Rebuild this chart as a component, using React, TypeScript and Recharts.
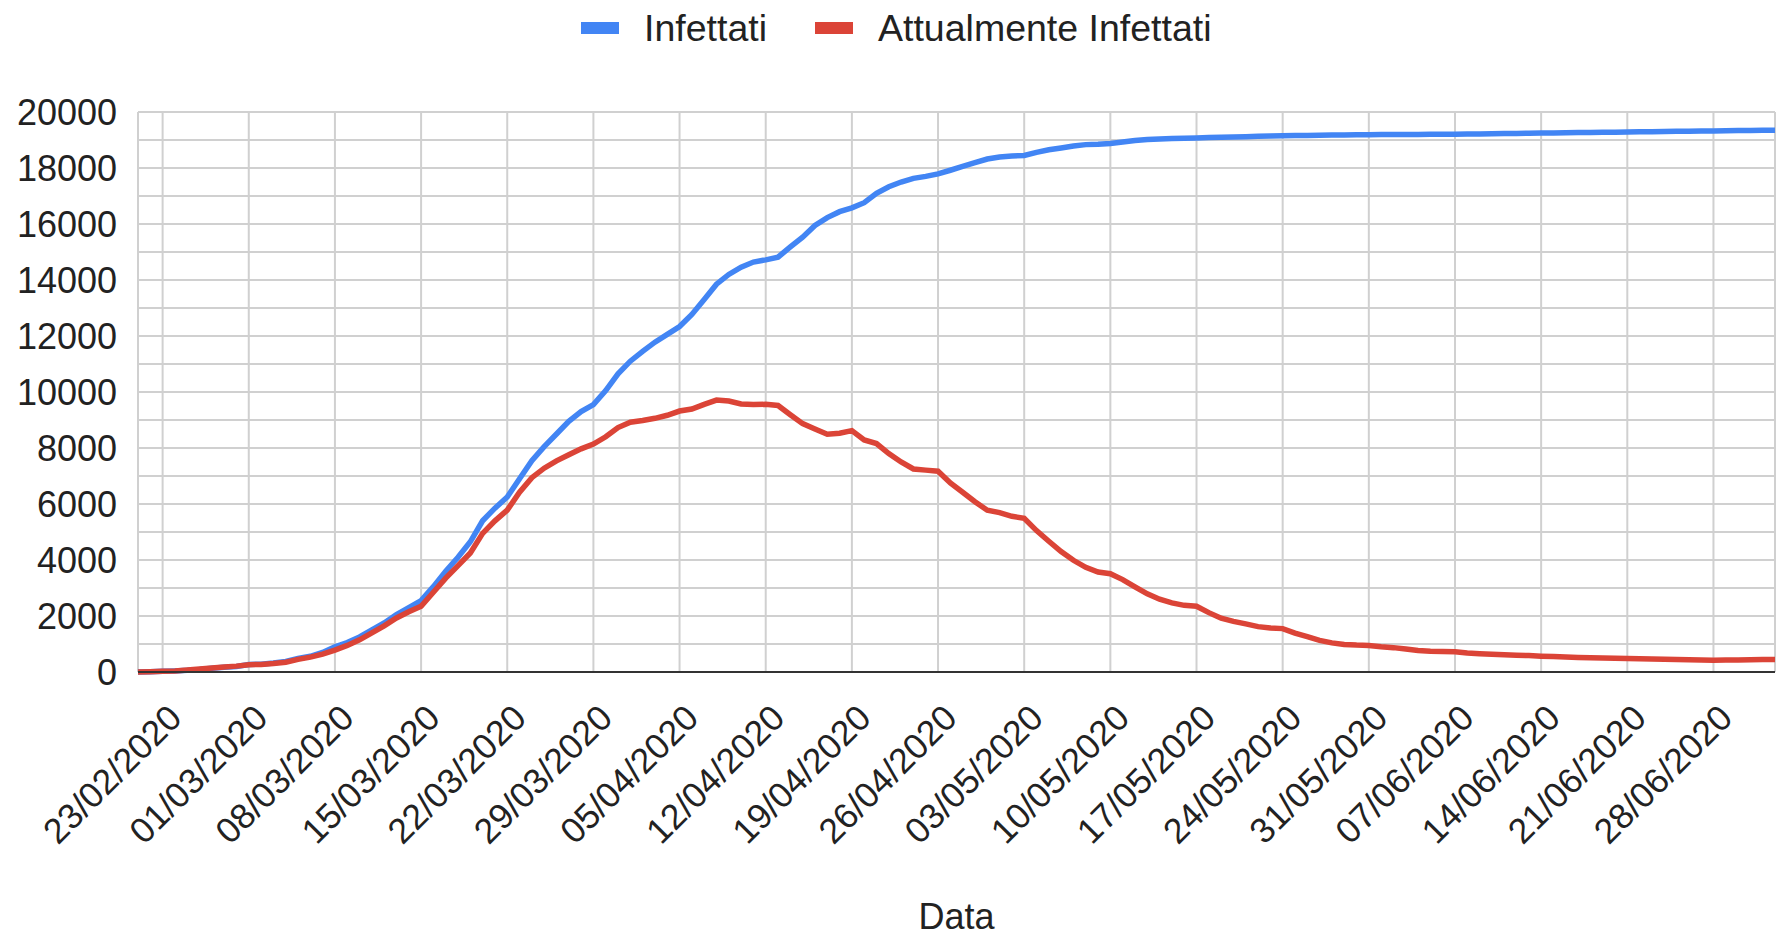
import { LineChart, Line, XAxis, YAxis, CartesianGrid, Legend } from 'recharts';

const FONT = '"Liberation Sans", Arial, sans-serif';
const BLUE = '#4285f4';
const RED = '#db4437';

// daily values, 21/02/2020 -> 03/07/2020
const infettati = [
  // feb 21-29
  0, 10, 25, 40, 60, 90, 130, 170, 200,
  // mar
  270, 280, 320, 380, 480, 560, 700, 900, 1050, 1250, 1500, 1750, 2050, 2300, 2550, 3050,
  3600, 4100, 4650, 5400, 5850, 6250, 6900, 7550, 8050, 8500, 8950, 9300, 9550, 10050, 10650,
  // apr
  11100, 11450, 11780, 12060, 12340, 12770, 13300, 13850, 14200, 14460, 14640, 14720, 14815,
  15180, 15530, 15950, 16230, 16440, 16575, 16760, 17100, 17330, 17500, 17630, 17700, 17790,
  17920, 18055, 18190, 18320,
  // may
  18390, 18425, 18450, 18560, 18650, 18715, 18785, 18835, 18850, 18875, 18930, 18980, 19020,
  19040, 19050, 19065, 19075, 19085, 19100, 19110, 19120, 19130, 19140, 19150, 19160, 19165,
  19170, 19175, 19180, 19185, 19190,
  // jun
  19192, 19195, 19197, 19200, 19202, 19204, 19206, 19212, 19218, 19224, 19230, 19236, 19241,
  19246, 19252, 19258, 19264, 19270, 19275, 19280, 19286, 19292, 19298, 19304, 19310, 19315,
  19320, 19325, 19330, 19336,
  // jul
  19341, 19346, 19352,
];

const attualmenteInfettati = [
  // feb 21-29
  0, 10, 25, 40, 70, 105, 140, 180, 210,
  // mar
  260, 270, 300, 350, 450, 530, 640, 780, 950, 1150, 1400, 1650, 1930, 2150, 2350, 2850,
  3350, 3800, 4250, 4950, 5400, 5780, 6420, 6940, 7280, 7540, 7760, 7970, 8140, 8400, 8730,
  // apr
  8920, 8980, 9060, 9170, 9320, 9390, 9560, 9710, 9680, 9570, 9550, 9560, 9520, 9190, 8870,
  8680, 8490, 8530, 8620, 8290, 8160, 7800, 7500, 7250, 7210, 7170, 6750, 6420, 6080, 5780,
  // may
  5690, 5560, 5490, 5050, 4670, 4300, 3990, 3740, 3570, 3510, 3300, 3040, 2790, 2600, 2470,
  2380, 2350, 2120, 1920, 1810, 1720, 1620, 1575, 1550, 1390, 1260, 1130, 1040, 980, 960, 950,
  // jun
  900, 870, 820, 770, 740, 730, 720, 680, 655, 635, 615, 600, 585, 565, 550, 535, 520, 510,
  500, 492, 485, 475, 465, 455, 445, 435, 428, 422, 425, 430,
  // jul
  438, 445, 450,
];

const xTicks = [
  '23/02/2020', '01/03/2020', '08/03/2020', '15/03/2020', '22/03/2020', '29/03/2020',
  '05/04/2020', '12/04/2020', '19/04/2020', '26/04/2020', '03/05/2020', '10/05/2020',
  '17/05/2020', '24/05/2020', '31/05/2020', '07/06/2020', '14/06/2020', '21/06/2020',
  '28/06/2020',
];

const yTicks = [
  0, 1000, 2000, 3000, 4000, 5000, 6000, 7000, 8000, 9000, 10000, 11000, 12000, 13000, 14000,
  15000, 16000, 17000, 18000, 19000, 20000,
];

const START = Date.UTC(2020, 1, 21);
const pad = (n: number) => String(n).padStart(2, '0');

const data = infettati.map((v, i) => {
  const d = new Date(START + i * 86400000);
  return {
    date: `${pad(d.getUTCDate())}/${pad(d.getUTCMonth() + 1)}/${d.getUTCFullYear()}`,
    infettati: v,
    attuali: attualmenteInfettati[i],
  };
});

const legendItems = [
  { label: 'Infettati', color: BLUE },
  { label: 'Attualmente Infettati', color: RED },
];

function LegendContent() {
  return (
    <div style={{ display: 'flex', alignItems: 'center', fontFamily: FONT, fontSize: 37.5, lineHeight: '36px', color: '#222' }}>
      {legendItems.map((it, i) => (
        <div key={it.label} style={{ display: 'flex', alignItems: 'center', marginLeft: i ? 48 : 0 }}>
          <span style={{ width: 38, height: 12, background: it.color, display: 'inline-block', marginRight: 25 }} />
          <span style={{ whiteSpace: 'nowrap' }}>{it.label}</span>
        </div>
      ))}
    </div>
  );
}

function XTick({ x, y, payload }: any) {
  return (
    <g transform={`translate(${x + 21},${y + 48})`}>
      <text transform="rotate(-45)" textAnchor="end" fontFamily={FONT} fontSize={35.5} fill="#222">
        {payload.value}
      </text>
    </g>
  );
}

export default function App() {
  return (
    <div style={{ position: 'absolute', left: 0, top: 0, background: '#fff' }}>
      <LineChart width={1780} height={941} data={data} margin={{ top: 112, right: 5, bottom: 0, left: 0 }}>
        <CartesianGrid stroke="#d0d0d0" strokeWidth={2} />
        <XAxis
          dataKey="date"
          ticks={xTicks}
          interval={0}
          height={269}
          tickSize={0}
          tickMargin={0}
          tick={<XTick />}
          axisLine={{ stroke: '#333', strokeWidth: 2 }}
          tickLine={false}
          label={({ viewBox }: any) => (
            <text
              x={viewBox.x + viewBox.width / 2}
              y={viewBox.y + 257}
              textAnchor="middle"
              fontFamily={FONT}
              fontSize={36}
              fill="#222"
            >
              Data
            </text>
          )}
        />
        <YAxis
          domain={[0, 20000]}
          ticks={yTicks}
          interval={0}
          width={138}
          tickSize={0}
          tickMargin={21}
          axisLine={false}
          tickLine={false}
          tick={{ fontSize: 36, fill: '#222', fontFamily: FONT }}
          tickFormatter={(v: number) => (v % 2000 === 0 ? String(v) : '')}
        />
        <Legend
          verticalAlign="middle"
          align="center"
          wrapperStyle={{ top: 10, left: 581, width: 'auto' }}
          content={<LegendContent />}
        />
        <Line
          type="linear"
          dataKey="infettati"
          name="Infettati"
          stroke={BLUE}
          strokeWidth={5.5}
          dot={false}
          isAnimationActive={false}
        />
        <Line
          type="linear"
          dataKey="attuali"
          name="Attualmente Infettati"
          stroke={RED}
          strokeWidth={5.5}
          dot={false}
          isAnimationActive={false}
        />
      </LineChart>
    </div>
  );
}
